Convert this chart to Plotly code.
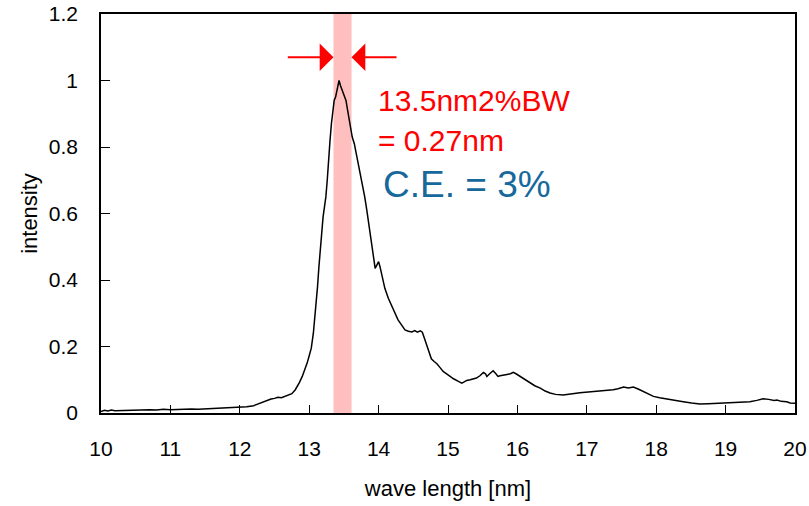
import plotly.graph_objects as go

wavelength = [
    10.00, 10.05, 10.10, 10.15, 10.20, 10.30, 10.40, 10.50, 10.60, 10.70, 10.80, 10.90,
    11.00, 11.10, 11.20, 11.30, 11.40, 11.50, 11.60, 11.70, 11.80, 11.90, 12.00, 12.10,
    12.20, 12.25, 12.30, 12.35, 12.40, 12.45, 12.50, 12.55, 12.60, 12.65, 12.70, 12.75,
    12.80, 12.83, 12.86, 12.90, 12.94, 12.97, 13.00, 13.03, 13.06, 13.08, 13.10, 13.12,
    13.14, 13.16, 13.18, 13.20, 13.22, 13.24, 13.26, 13.28, 13.30, 13.32, 13.34, 13.36,
    13.38, 13.40, 13.42, 13.43, 13.45, 13.47, 13.49, 13.51, 13.53, 13.55, 13.57, 13.59,
    13.62, 13.65, 13.68, 13.71, 13.74, 13.77, 13.80, 13.83, 13.86, 13.89, 13.92, 13.94,
    13.95, 13.97, 14.00, 14.02, 14.05, 14.09, 14.14, 14.19, 14.24, 14.28, 14.33, 14.38,
    14.43, 14.48, 14.52, 14.56, 14.60, 14.63, 14.66, 14.69, 14.72, 14.76, 14.80, 14.84,
    14.88, 14.93, 14.98, 15.03, 15.08, 15.15, 15.20, 15.22, 15.27, 15.32, 15.37, 15.41,
    15.46, 15.51, 15.54, 15.56, 15.60, 15.65, 15.69, 15.72, 15.75, 15.80, 15.85, 15.90,
    15.94, 15.98, 16.04, 16.10, 16.18, 16.25, 16.33, 16.40, 16.47, 16.55, 16.66, 16.78,
    16.90, 17.02, 17.14, 17.26, 17.38, 17.45, 17.53, 17.60, 17.67, 17.74, 17.81, 17.88,
    17.96, 18.05, 18.15, 18.27, 18.39, 18.51, 18.63, 18.75, 18.87, 18.99, 19.11, 19.23,
    19.35, 19.45, 19.54, 19.62, 19.70, 19.74, 19.80, 19.88, 19.93, 20.00,
]
intensity = [
    0.004, 0.008, 0.006, 0.009, 0.007, 0.008, 0.009, 0.008, 0.009, 0.010, 0.009, 0.011,
    0.010, 0.011, 0.010, 0.012, 0.011, 0.012, 0.012, 0.013, 0.014, 0.015, 0.016, 0.019,
    0.022, 0.026, 0.030, 0.035, 0.038, 0.042, 0.044, 0.047, 0.046, 0.050, 0.054, 0.058,
    0.070, 0.080, 0.092, 0.110, 0.130, 0.150, 0.172, 0.195, 0.240, 0.280, 0.330, 0.380,
    0.440, 0.500, 0.550, 0.590, 0.620, 0.650, 0.700, 0.780, 0.820, 0.870, 0.900, 0.940,
    0.950, 0.975, 0.995, 1.000, 0.985, 0.975, 0.965, 0.950, 0.940, 0.915, 0.890, 0.855,
    0.830, 0.810, 0.780, 0.750, 0.720, 0.690, 0.650, 0.610, 0.570, 0.530, 0.490, 0.450,
    0.435, 0.445, 0.455, 0.440, 0.410, 0.375, 0.345, 0.320, 0.295, 0.280, 0.265, 0.250,
    0.246, 0.244, 0.248, 0.243, 0.247, 0.243, 0.225, 0.208, 0.190, 0.163, 0.155, 0.148,
    0.138, 0.125, 0.118, 0.110, 0.103, 0.095, 0.090, 0.092, 0.098, 0.100, 0.104, 0.105,
    0.112, 0.122, 0.118, 0.110, 0.118, 0.127, 0.118, 0.110, 0.112, 0.115, 0.116, 0.118,
    0.122, 0.118, 0.110, 0.100, 0.090, 0.082, 0.075, 0.066, 0.060, 0.056, 0.054, 0.058,
    0.061, 0.063, 0.065, 0.067, 0.070, 0.073, 0.078, 0.075, 0.078, 0.072, 0.065, 0.058,
    0.050, 0.046, 0.042, 0.038, 0.034, 0.030, 0.027, 0.028, 0.029, 0.030, 0.031, 0.032,
    0.034, 0.038, 0.043, 0.041, 0.038, 0.039, 0.035, 0.034, 0.030, 0.029,
]

x_ticks = [10, 11, 12, 13, 14, 15, 16, 17, 18, 19, 20]
y_ticks = [0, 0.2, 0.4, 0.6, 0.8, 1.0, 1.2]
y_tick_labels = ["0", "0.2", "0.4", "0.6", "0.8", "1", "1.2"]

band_range = [13.35, 13.61]
arrow_y = 1.07
arrow_left_tail = 12.67
arrow_right_tail = 14.28
label_bw_line1 = "13.5nm2%BW"
label_bw_line2 = "= 0.27nm"
label_ce = "C.E. = 3%"

FONT = "Liberation Sans, Arial, sans-serif"
RED = "#FF0000"
BLUE = "#17699C"

fig = go.Figure()
fig.add_trace(go.Scatter(
    x=wavelength, y=intensity, mode="lines",
    line=dict(color="black", width=1.5), showlegend=False, cliponaxis=False,
))

fig.add_shape(type="rect", xref="x", yref="y",
              x0=band_range[0], x1=band_range[1], y0=0, y1=1.2,
              fillcolor="#FFBFBF", line=dict(width=0), layer="below")

fig.add_annotation(x=band_range[0], y=arrow_y, ax=arrow_left_tail, ay=arrow_y,
                   xref="x", yref="y", axref="x", ayref="y", text="",
                   showarrow=True, arrowhead=1, arrowsize=2.3, arrowwidth=2,
                   arrowcolor=RED, standoff=0)
fig.add_annotation(x=band_range[1], y=arrow_y, ax=arrow_right_tail, ay=arrow_y,
                   xref="x", yref="y", axref="x", ayref="y", text="",
                   showarrow=True, arrowhead=1, arrowsize=2.3, arrowwidth=2,
                   arrowcolor=RED, standoff=0)

fig.add_annotation(x=13.96, y=0.941, xref="x", yref="y", text=label_bw_line1,
                   showarrow=False, xanchor="left", yanchor="middle",
                   font=dict(family=FONT, size=30, color=RED))
fig.add_annotation(x=13.96, y=0.821, xref="x", yref="y", text=label_bw_line2,
                   showarrow=False, xanchor="left", yanchor="middle",
                   font=dict(family=FONT, size=30, color=RED))
fig.add_annotation(x=14.03, y=0.686, xref="x", yref="y", text=label_ce,
                   showarrow=False, xanchor="left", yanchor="middle",
                   font=dict(family=FONT, size=37, color=BLUE))

fig.update_layout(
    width=809, height=506, autosize=False,
    margin=dict(l=101, r=14, t=14, b=93),
    paper_bgcolor="white", plot_bgcolor="white",
    font=dict(family=FONT, color="black"),
)
fig.update_xaxes(
    range=[10, 20], tickvals=x_ticks, ticks="inside", ticklen=8, tickwidth=1.3,
    tickcolor="black", showline=True, linecolor="black", linewidth=1.5, mirror=True,
    showgrid=False, zeroline=False, tickfont=dict(size=21), ticklabelstandoff=16,
    automargin=False,
    title=dict(text="wave length [nm]", font=dict(size=22), standoff=22),
)
fig.update_yaxes(
    range=[0, 1.2], tickvals=y_ticks, ticktext=y_tick_labels, ticks="inside",
    ticklen=9, tickwidth=1.3, tickcolor="black", showline=True, linecolor="black",
    linewidth=1.5, mirror=True, showgrid=False, zeroline=False,
    tickfont=dict(size=21), ticklabelstandoff=17, automargin=False,
    title=dict(text="intensity", font=dict(size=22), standoff=5),
)

# remove the default page margin so the figure sits at the window's corner
fig.write_html(
    "out.html",
    config={"displayModeBar": False},
    post_script="document.body.style.margin='0';document.body.style.overflow='hidden';",
)
